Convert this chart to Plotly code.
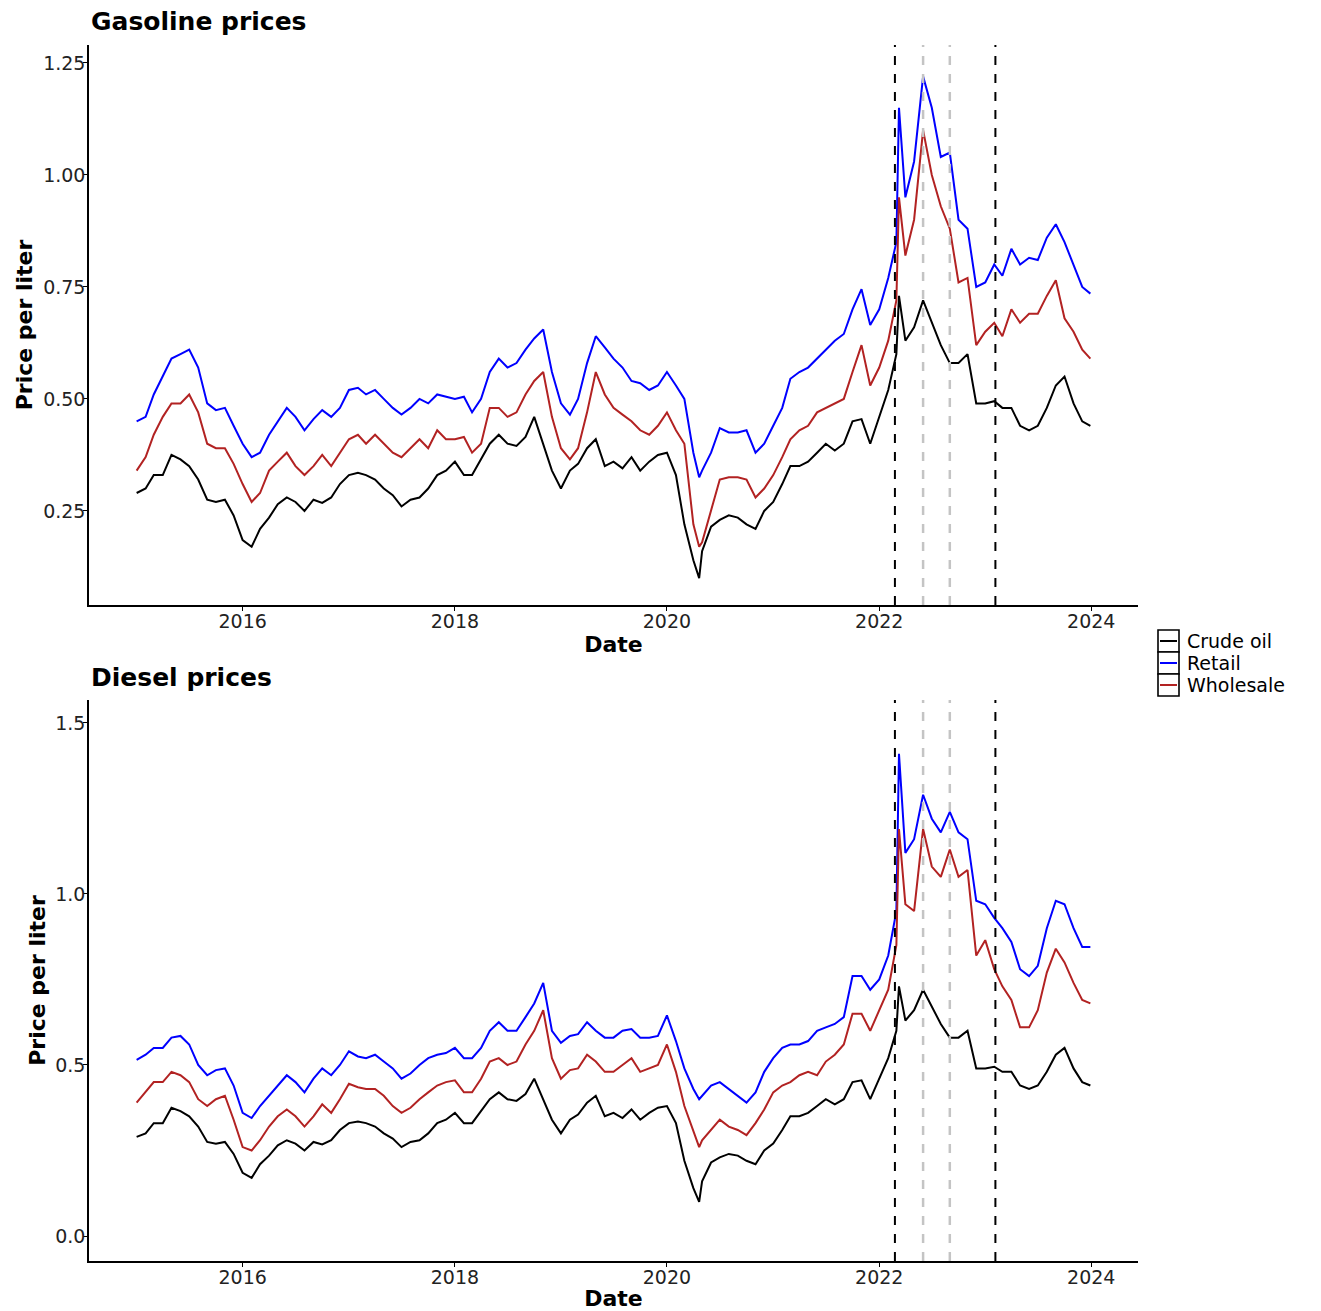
import pandas as pd
import plotly.graph_objects as go

# ---------------- data (EUR per liter) ----------------
months = pd.date_range("2015-01-01", "2023-12-01", freq="MS").strftime("%Y-%m-%d").tolist()
dates = months[:64] + ["2020-04-21"] + months[64:87] + ["2022-03-10"] + months[87:] + ["2023-12-29"]

crude = [0.29, 0.30, 0.33, 0.33, 0.375, 0.365, 0.35, 0.32, 0.275, 0.27, 0.275, 0.24,
         0.185, 0.17, 0.21, 0.235, 0.265, 0.28, 0.27, 0.25, 0.275, 0.268, 0.28, 0.31,
         0.33, 0.335, 0.33, 0.32, 0.30, 0.285, 0.26, 0.275, 0.28, 0.30, 0.33, 0.34,
         0.36, 0.33, 0.33, 0.365, 0.40, 0.42, 0.40, 0.395, 0.415, 0.46, 0.40, 0.34,
         0.30, 0.34, 0.355, 0.39, 0.41, 0.35, 0.36, 0.345, 0.37, 0.34, 0.36, 0.375,
         0.38, 0.33, 0.22, 0.14, 0.10, 0.16, 0.215, 0.23, 0.24, 0.235, 0.22, 0.21, 0.25,
         0.27, 0.31, 0.35, 0.35, 0.36, 0.38, 0.40, 0.385, 0.40, 0.45, 0.455, 0.40,
         0.46, 0.52, 0.60, 0.73,
         0.63, 0.66, 0.72, 0.67, 0.62, 0.58, 0.58, 0.60, 0.49, 0.49, 0.495, 0.48,
         0.48, 0.44, 0.43, 0.44, 0.48, 0.53, 0.55, 0.49, 0.45,
         0.44]

gas_retail = [0.45, 0.46, 0.51, 0.55, 0.59, 0.60, 0.61, 0.57, 0.49, 0.475, 0.48, 0.44,
              0.40, 0.37, 0.38, 0.42, 0.45, 0.48, 0.46, 0.43, 0.455, 0.475, 0.46, 0.48,
              0.52, 0.525, 0.51, 0.52, 0.50, 0.48, 0.465, 0.48, 0.50, 0.49, 0.51, 0.505,
              0.50, 0.505, 0.47, 0.50, 0.56, 0.59, 0.57, 0.58, 0.61, 0.635, 0.655, 0.56,
              0.49, 0.465, 0.50, 0.58, 0.64, 0.615, 0.59, 0.57, 0.54, 0.535, 0.52, 0.53,
              0.56, 0.53, 0.50, 0.38, 0.325, 0.34, 0.38, 0.435, 0.425, 0.425, 0.43, 0.38, 0.40,
              0.44, 0.48, 0.545, 0.56, 0.57, 0.59, 0.61, 0.63, 0.645, 0.70, 0.745, 0.665,
              0.70, 0.77, 0.85, 1.15,
              0.95, 1.03, 1.22, 1.15, 1.04, 1.05, 0.90, 0.88, 0.75, 0.76, 0.80, 0.775,
              0.835, 0.80, 0.815, 0.81, 0.86, 0.89, 0.85, 0.80, 0.75,
              0.735]

gas_wholesale = [0.34, 0.37, 0.42, 0.46, 0.49, 0.49, 0.51, 0.47, 0.40, 0.39, 0.39, 0.355,
                 0.31, 0.27, 0.29, 0.34, 0.36, 0.38, 0.35, 0.33, 0.35, 0.375, 0.35, 0.38,
                 0.41, 0.42, 0.40, 0.42, 0.40, 0.38, 0.37, 0.39, 0.41, 0.39, 0.43, 0.41,
                 0.41, 0.415, 0.38, 0.40, 0.48, 0.48, 0.46, 0.47, 0.51, 0.54, 0.56, 0.46,
                 0.39, 0.365, 0.39, 0.47, 0.56, 0.51, 0.48, 0.465, 0.45, 0.43, 0.42, 0.44,
                 0.47, 0.43, 0.40, 0.22, 0.17, 0.18, 0.25, 0.32, 0.325, 0.325, 0.32, 0.28, 0.30,
                 0.33, 0.37, 0.41, 0.43, 0.44, 0.47, 0.48, 0.49, 0.50, 0.56, 0.62, 0.53,
                 0.57, 0.63, 0.72, 0.95,
                 0.82, 0.90, 1.10, 1.00, 0.93, 0.88, 0.76, 0.77, 0.62, 0.65, 0.67, 0.64,
                 0.70, 0.67, 0.69, 0.69, 0.73, 0.765, 0.68, 0.65, 0.61,
                 0.59]

diesel_retail = [0.515, 0.53, 0.55, 0.55, 0.58, 0.585, 0.56, 0.50, 0.47, 0.485, 0.49, 0.44,
                 0.36, 0.345, 0.38, 0.41, 0.44, 0.47, 0.45, 0.42, 0.46, 0.49, 0.47, 0.50,
                 0.54, 0.525, 0.52, 0.53, 0.51, 0.49, 0.46, 0.475, 0.50, 0.52, 0.53, 0.535,
                 0.55, 0.52, 0.52, 0.55, 0.60, 0.625, 0.60, 0.60, 0.64, 0.68, 0.74, 0.60,
                 0.565, 0.585, 0.59, 0.625, 0.60, 0.58, 0.58, 0.60, 0.605, 0.58, 0.58, 0.585,
                 0.645, 0.57, 0.49, 0.43, 0.40, 0.41, 0.44, 0.45, 0.43, 0.41, 0.39, 0.42, 0.48,
                 0.52, 0.55, 0.56, 0.56, 0.57, 0.60, 0.61, 0.62, 0.64, 0.76, 0.76, 0.72,
                 0.75, 0.82, 0.95, 1.41,
                 1.12, 1.16, 1.29, 1.22, 1.18, 1.24, 1.18, 1.16, 0.98, 0.97, 0.93, 0.90,
                 0.86, 0.78, 0.76, 0.79, 0.90, 0.98, 0.97, 0.90, 0.845,
                 0.845]

diesel_wholesale = [0.39, 0.42, 0.45, 0.45, 0.48, 0.47, 0.45, 0.40, 0.38, 0.40, 0.41, 0.34,
                    0.26, 0.25, 0.28, 0.32, 0.35, 0.37, 0.35, 0.32, 0.35, 0.385, 0.36, 0.40,
                    0.445, 0.435, 0.43, 0.43, 0.41, 0.38, 0.36, 0.375, 0.40, 0.42, 0.44, 0.45,
                    0.455, 0.42, 0.42, 0.46, 0.51, 0.52, 0.50, 0.51, 0.56, 0.60, 0.66, 0.52,
                    0.46, 0.485, 0.49, 0.53, 0.51, 0.48, 0.48, 0.50, 0.52, 0.48, 0.49, 0.50,
                    0.56, 0.48, 0.38, 0.31, 0.26, 0.28, 0.31, 0.34, 0.32, 0.31, 0.295, 0.33, 0.37,
                    0.42, 0.44, 0.45, 0.47, 0.48, 0.47, 0.51, 0.53, 0.56, 0.65, 0.65, 0.60,
                    0.66, 0.72, 0.85, 1.19,
                    0.97, 0.95, 1.19, 1.08, 1.05, 1.13, 1.05, 1.07, 0.82, 0.865, 0.78, 0.73,
                    0.69, 0.61, 0.61, 0.66, 0.77, 0.84, 0.80, 0.74, 0.69,
                    0.68]

series_names = ["Crude oil", "Retail", "Wholesale"]
series_colors = ["black", "blue", "firebrick"]

vlines_black = ["2022-02-24", "2023-02-05"]
vlines_gray = ["2022-06-01", "2022-09-01"]

x_ticks = ["2016-01-01", "2018-01-01", "2020-01-01", "2022-01-01", "2024-01-01"]
x_ticktext = ["2016", "2018", "2020", "2022", "2024"]
gas_yticks = [0.25, 0.50, 0.75, 1.00, 1.25]
diesel_yticks = [0.0, 0.5, 1.0, 1.5]

# ---------------- figure ----------------
FONT = "DejaVu Sans"
# page body has an 8px offset; the plot area spans page pixels x 89..1138, y 45..1261
W, H = 1313, 1303
ML, MR, MT, MB = 81, 183, 37, 50
PL, PR, PT, PB = 89, 1138, 45, 1261


def px_x(px):
    return (px - PL) / (PR - PL)


def px_y(py):
    return (PB - py) / (PB - PT)


fig = go.Figure()

panels = [
    ("x", "y", [crude, gas_retail, gas_wholesale]),
    ("x2", "y2", [crude, diesel_retail, diesel_wholesale]),
]
for xa, ya, vals in panels:
    for name, color, v in zip(series_names, series_colors, vals):
        fig.add_trace(go.Scatter(
            x=dates, y=v, mode="lines", name=name, xaxis=xa, yaxis=ya,
            line=dict(color=color, width=2), showlegend=False, legendgroup=name,
        ))

for xa, ya in [("x", "y"), ("x2", "y2")]:
    for d in vlines_gray:
        fig.add_shape(type="line", xref=xa, yref=f"{ya} domain", x0=d, x1=d, y0=0, y1=1,
                      line=dict(color="#c4c4c4", width=2.5, dash="dash"), layer="above")
    for d in vlines_black:
        fig.add_shape(type="line", xref=xa, yref=f"{ya} domain", x0=d, x1=d, y0=0, y1=1,
                      line=dict(color="black", width=2, dash="dash"), layer="above")

# legend drawn as ggplot-style keys: outlined cells with a coloured line, and text
annotations = []
ROW = 22
for i, (name, color) in enumerate(zip(series_names, series_colors)):
    top = 630 + ROW * i
    bot = top + ROW
    mid = (top + bot) / 2
    fig.add_shape(type="rect", xref="paper", yref="paper",
                  x0=px_x(1158), x1=px_x(1179), y0=px_y(bot), y1=px_y(top),
                  line=dict(color="black", width=1.6), fillcolor="white")
    fig.add_shape(type="line", xref="paper", yref="paper",
                  x0=px_x(1160), x1=px_x(1177), y0=px_y(mid), y1=px_y(mid),
                  line=dict(color=color, width=2))
    annotations.append(dict(text=name, x=px_x(1186), xref="paper", xanchor="left",
                            y=px_y(mid), yref="paper", yanchor="middle", showarrow=False,
                            borderpad=0,
                            font=dict(family=FONT, size=19, color="black")))

annotations += [
    dict(text="<b>Gasoline prices</b>", x=px_x(89), xref="paper", xanchor="left",
         y=px_y(22), yref="paper", yanchor="middle", showarrow=False,
         font=dict(family=FONT, size=25, color="black")),
    dict(text="<b>Diesel prices</b>", x=px_x(89), xref="paper", xanchor="left",
         y=px_y(678), yref="paper", yanchor="middle", showarrow=False,
         font=dict(family=FONT, size=25, color="black")),
]

axis_common = dict(showline=True, linecolor="black", linewidth=1.5, ticks="outside",
                   ticklen=4, tickwidth=1.2, tickcolor="black", showgrid=False, zeroline=False,
                   automargin=False,
                   tickfont=dict(family=FONT, size=19, color="#222222"))
x_common = dict(axis_common, type="date", range=["2014-07-21", "2024-06-10"],
                tickvals=x_ticks, ticktext=x_ticktext, ticklabelstandoff=-6,
                title=dict(text="<b>Date</b>", font=dict(family=FONT, size=22, color="black"), standoff=0))
y_title = dict(text="<b>Price per liter</b>", font=dict(family=FONT, size=22, color="black"), standoff=4)

fig.update_layout(
    width=W, height=H,
    paper_bgcolor="white", plot_bgcolor="white",
    font=dict(family=FONT, color="black"),
    margin=dict(l=ML, r=MR, t=MT, b=MB, autoexpand=False),
    showlegend=False,
    xaxis=dict(x_common, anchor="y", domain=[0, 1]),
    xaxis2=dict(x_common, anchor="y2", domain=[0, 1]),
    yaxis=dict(axis_common, anchor="x", domain=[px_y(605), 1], range=[0.040, 1.290],
               tickvals=gas_yticks, ticktext=[f"{t:.2f}" for t in gas_yticks],
               ticklabelstandoff=-6, title=y_title),
    yaxis2=dict(axis_common, anchor="x2", domain=[0, px_y(700)], range=[-0.073, 1.567],
                tickvals=diesel_yticks, ticktext=[f"{t:.1f}" for t in diesel_yticks],
                ticklabelstandoff=-6, title=y_title),
    annotations=annotations,
)

fig.write_html("out.html")
